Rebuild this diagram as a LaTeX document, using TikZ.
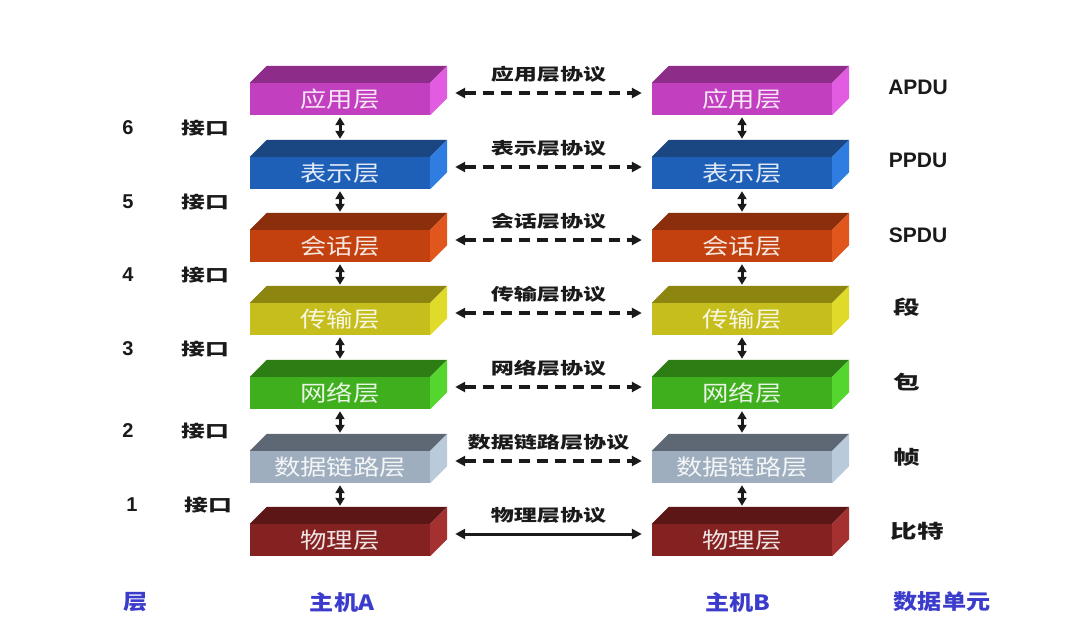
\documentclass[tikz,border=0pt]{standalone}
\usepackage{fontspec}
\setmainfont{Liberation Sans}
\newfontfamily\cjkL[FakeStretch=1.2]{Noto Sans CJK SC}
\newfontfamily\cjkP[FakeStretch=1.4]{Noto Sans CJK SC}
\newfontfamily\cjkB[FakeStretch=1.15]{Noto Sans CJK SC}
\usetikzlibrary{arrows.meta,calc}
\definecolor{appF}{HTML}{C23FC0}\definecolor{appT}{HTML}{8E2C8A}\definecolor{appS}{HTML}{E15CE0}
\definecolor{preF}{HTML}{1E5FB8}\definecolor{preT}{HTML}{1A4682}\definecolor{preS}{HTML}{2F7DE0}
\definecolor{sesF}{HTML}{C2410F}\definecolor{sesT}{HTML}{8A2E0C}\definecolor{sesS}{HTML}{E0561C}
\definecolor{traF}{HTML}{C6BE1C}\definecolor{traT}{HTML}{8C8610}\definecolor{traS}{HTML}{E0DA2A}
\definecolor{netF}{HTML}{3FAF1E}\definecolor{netT}{HTML}{2C7E14}\definecolor{netS}{HTML}{55D62E}
\definecolor{dlF}{HTML}{9EAEBE}\definecolor{dlT}{HTML}{5E6874}\definecolor{dlS}{HTML}{B9CADA}
\definecolor{phyF}{HTML}{842222}\definecolor{phyT}{HTML}{5C1616}\definecolor{phyS}{HTML}{A53030}
\definecolor{bluelab}{HTML}{3C3CCC}
\definecolor{ink}{HTML}{1A1A1A}
\tikzset{
  frontface/.style={minimum width=180pt, minimum height=32pt, inner sep=0pt,
    font=\cjkL\fontsize{22}{22}\selectfont},
  harrow/.style={draw=ink, line width=3.2pt, dash pattern=on 11pt off 7pt,
    {Triangle[length=10pt,width=10pt]}-{Triangle[length=10pt,width=10pt]}},
  hsolid/.style={draw=ink, line width=3pt,
    {Triangle[length=10pt,width=10pt]}-{Triangle[length=10pt,width=10pt]}},
  varrow/.style={draw=ink, line width=3pt,
    {Triangle[length=8pt,width=9pt]}-{Triangle[length=8pt,width=9pt]}},
  proto/.style={font=\cjkP\bfseries\fontsize{16.5}{16.5}\selectfont, inner sep=0pt, text=ink},
  num/.style={font=\bfseries\fontsize{20}{20}\selectfont, inner sep=0pt, text=ink},
  jk/.style={font=\cjkP\bfseries\fontsize{17}{17}\selectfont, inner sep=0pt, text=ink},
  pdu/.style={font=\bfseries\fontsize{21}{21}\selectfont, inner sep=0pt, text=ink},
  unit/.style={font=\cjkP\bfseries\fontsize{19}{19}\selectfont, inner sep=0pt, text=ink},
  bottom/.style={font=\cjkB\bfseries\fontsize{21}{21}\selectfont, inner sep=0pt, text=bluelab},
}
\newcommand\layerbox[7]{%
  \node[frontface, fill=#4, text=white!88!#4] (#1) at (#2,#3) {\raisebox{-1.5pt}{#7}};
  \fill[#5] (#1.north west) -- (#1.north east) -- ($(#1.north east)+(17,-17)$) -- ($(#1.north west)+(17,-17)$) -- cycle;
  \fill[#6] (#1.north east) -- (#1.south east) -- ($(#1.south east)+(17,-17)$) -- ($(#1.north east)+(17,-17)$) -- cycle;
}
\begin{document}
\begin{tikzpicture}[x=1pt,y=-1pt]
\useasboundingbox[fill=white] (0,0) rectangle (1080,641);
% boxes
\layerbox{A1}{340}{99}{appF}{appT}{appS}{应用层}
\layerbox{A2}{340}{173}{preF}{preT}{preS}{表示层}
\layerbox{A3}{340}{246}{sesF}{sesT}{sesS}{会话层}
\layerbox{A4}{340}{319}{traF}{traT}{traS}{传输层}
\layerbox{A5}{340}{393}{netF}{netT}{netS}{网络层}
\layerbox{A6}{340}{467}{dlF}{dlT}{dlS}{数据链路层}
\layerbox{A7}{340}{540}{phyF}{phyT}{phyS}{物理层}
\layerbox{B1}{742}{99}{appF}{appT}{appS}{应用层}
\layerbox{B2}{742}{173}{preF}{preT}{preS}{表示层}
\layerbox{B3}{742}{246}{sesF}{sesT}{sesS}{会话层}
\layerbox{B4}{742}{319}{traF}{traT}{traS}{传输层}
\layerbox{B5}{742}{393}{netF}{netT}{netS}{网络层}
\layerbox{B6}{742}{467}{dlF}{dlT}{dlS}{数据链路层}
\layerbox{B7}{742}{540}{phyF}{phyT}{phyS}{物理层}
% vertical arrows
\foreach \h in {A,B}{
  \foreach \i/\j in {1/2,2/3,3/4,4/5,5/6,6/7}{
    \draw[varrow] ($(\h\i.south)+(0,2)$) -- ($(\h\j.north)+(0,-18)$);
  }
}
% horizontal protocol arrows
\foreach \i/\t in {1/应用层协议,2/表示层协议,3/会话层协议,4/传输层协议,5/网络层协议,6/数据链路层协议}{
  \draw[harrow] ($(A\i.east)+(25,-6)$) -- ($(B\i.west)+(-10,-6)$)
    node[proto, midway, yshift=19pt] (P\i) {\t};
}
\draw[hsolid] ($(A7.east)+(25,-6)$) -- ($(B7.west)+(-10,-6)$)
    node[proto, midway, yshift=19pt] (P7) {物理层协议};
% left labels
\node[num] (n6) at (128,128) {6}; \node[jk] (j6) at (205,128) {接口};
\node[num] (n5) at (128,202) {5}; \node[jk] (j5) at (205,202) {接口};
\node[num] (n4) at (128,275) {4}; \node[jk] (j4) at (205,275) {接口};
\node[num] (n3) at (128,349) {3}; \node[jk] (j3) at (205,349) {接口};
\node[num] (n2) at (128,431) {2}; \node[jk] (j2) at (205,431) {接口};
\node[num] (n1) at (132,505) {1}; \node[jk] (j1) at (208,505) {接口};
% right labels
\node[pdu] (u1) at (918,87) {APDU};
\node[pdu] (u2) at (918,160) {PPDU};
\node[pdu] (u3) at (918,235) {SPDU};
\node[unit] (u4) at (907,307) {段};
\node[unit] (u5) at (907,382) {包};
\node[unit] (u6) at (907,457) {帧};
\node[unit] (u7) at (917,531) {比特};
% bottom labels
\node[bottom] (b1) at (136,602) {层};
\node[bottom] (b2) at (342,602) {主机A};
\node[bottom] (b3) at (738,602) {主机B};
\node[bottom] (b4) at (942,602) {数据单元};
\end{tikzpicture}
\end{document}
